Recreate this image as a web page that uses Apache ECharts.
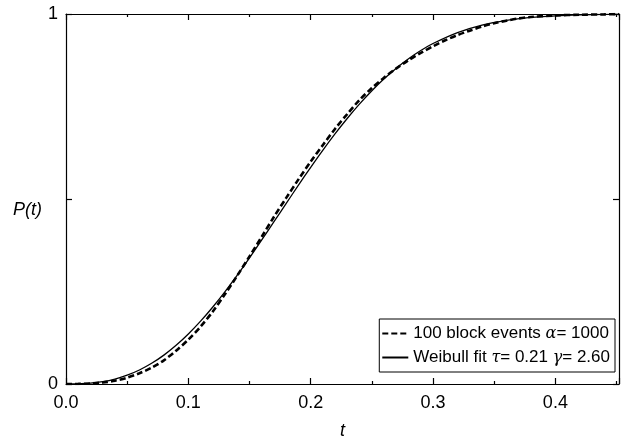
<!DOCTYPE html>
<html><head><meta charset="utf-8">
<script src="https://cdn.jsdelivr.net/npm/echarts@6/dist/echarts.min.js"></script>
<style>html,body{margin:0;padding:0;background:#fff}#c{width:627px;height:443px}</style>
</head><body><div id="c"></div>
<script>
var tGrid = [0,0.01,0.02,0.03,0.04,0.05,0.06,0.07,0.08,0.09,0.10,0.11,0.12,0.13,0.14,0.15,0.16,0.17,0.18,0.19,0.20,0.21,0.22,0.23,0.24,0.25,0.26,0.27,0.28,0.29,0.30,0.31,0.32,0.33,0.34,0.35,0.36,0.37,0.38,0.40,0.42,0.44,0.452];
var eventsP = [0,0.0003,0.0015,0.004,0.009,0.017,0.029,0.044,0.064,0.090,0.120,0.155,0.196,0.243,0.293,0.345,0.398,0.452,0.503,0.553,0.601,0.646,0.690,0.730,0.768,0.800,0.828,0.853,0.875,0.895,0.913,0.929,0.943,0.955,0.966,0.975,0.982,0.988,0.992,0.996,0.998,0.999,1.0];
var fitT = [0,0.01,0.02,0.03,0.04,0.05,0.06,0.07,0.08,0.09,0.10,0.11,0.12,0.13,0.14,0.15,0.16,0.17,0.18,0.19,0.20,0.21,0.22,0.23,0.24,0.25,0.26,0.27,0.28,0.29,0.30,0.32,0.34,0.36,0.38,0.40,0.42,0.44,0.452];
var fitP = [0,0.0004,0.0022,0.0063,0.0133,0.0237,0.0378,0.0559,0.0781,0.1046,0.1352,0.1698,0.2082,0.2498,0.2942,0.3409,0.3893,0.4386,0.4882,0.5374,0.5856,0.6321,0.6765,0.7183,0.7571,0.7927,0.8249,0.8537,0.8791,0.9012,0.9202,0.9497,0.9698,0.9828,0.9907,0.9952,0.9977,0.9989,0.9994];
var xTicks = [0, 0.1, 0.2, 0.3, 0.4];
var yTickLabels = ['0', '', '1'];

function pairs(xs, ys){ return xs.map(function(x,i){ return [x, ys[i]]; }); }
var F = 'Liberation Sans, Arial, sans-serif';
var chart = echarts.init(document.getElementById('c'));
function axisBase(pos, idx, showLabels, isX){
  var a = {
    type:'value', position:pos, min:0, max: isX ? 0.452 : 1, interval: isX ? 0.1 : 0.5,
    axisLine:{show:true, onZero:false, lineStyle:{color:'#000', width:1.2}},
    axisTick:{show:true, inside:true, length:6, lineStyle:{color:'#000', width:1.2}},
    splitLine:{show:false},
    axisLabel:{show:showLabels, color:'#000', fontFamily:F, fontSize:18, margin: isX ? 10 : 8}
  };
  if (isX) {
    a.minorTick = {show:true, splitNumber:2, length:3, lineStyle:{color:'#000', width:1.2}};
    a.axisLabel.showMaxLabel = false;
    a.axisLabel.formatter = function(v){ var i = xTicks.findIndex(function(t){return Math.abs(t-v)<1e-9;}); return i>=0 ? xTicks[i].toFixed(1) : ''; };
  } else {
    a.axisLabel.formatter = function(v){ return yTickLabels[Math.round(v*2)] || ''; };
  }
  return a;
}
var xb = axisBase('bottom',0,true,true);
xb.name = 't'; xb.nameLocation='middle'; xb.nameGap = 38;
xb.nameTextStyle = {fontFamily:F, fontSize:18, fontStyle:'italic', color:'#000'};
var xt = axisBase('top',1,false,true);
var yl = axisBase('left',0,true,false);
yl.name = 'P(t)'; yl.nameLocation='middle'; yl.nameGap = 21; yl.nameRotate = 0;
yl.nameTextStyle = {fontFamily:F, fontSize:18, fontStyle:'italic', color:'#000', verticalAlign:'top', padding:[2,0,0,0]};
var yr = axisBase('right',1,false,false);

var rich = {
  n:{fontFamily:F, fontSize:17, color:'#000'},
  g:{fontFamily:'DejaVu Serif, serif', fontSize:16, fontStyle:'italic', color:'#000'}
};
chart.setOption({
  animation:false,
  grid:{left:66, right:8, top:14, bottom:59, containLabel:false, outerBoundsMode:'none'},
  xAxis:[xb, xt],
  yAxis:[yl, yr],
  legend:{
    orient:'vertical', right:12, bottom:71,
    itemWidth:26, itemHeight:10, itemGap:7,
    backgroundColor:'#fff', borderColor:'#000', borderWidth:1, borderRadius:0,
    padding:[6,5,6,2],
    itemStyle:{opacity:0},
    textStyle:{fontFamily:F, fontSize:17, color:'#000', rich:rich},
    formatter:function(name){
      if (name === 'events') return '{n|100 block events }{g|α}{n|= 1000}';
      return '{n|Weibull fit }{g|τ}{n|= 0.21 }{g|γ}{n|= 2.60}';
    },
    data:['events','fit']
  },
  series:[
    {name:'events', type:'line', data:pairs(tGrid, eventsP), symbol:'none', smooth:0.3,
     lineStyle:{color:'#000', width:2.6, type:[6,3]}, itemStyle:{color:'#000'}, z:3},
    {name:'fit', type:'line', data:pairs(fitT, fitP), symbol:'none', smooth:0.3,
     lineStyle:{color:'#000', width:1.3, type:'solid'}, itemStyle:{color:'#000'}, z:2}
  ]
});
</script></body></html>
